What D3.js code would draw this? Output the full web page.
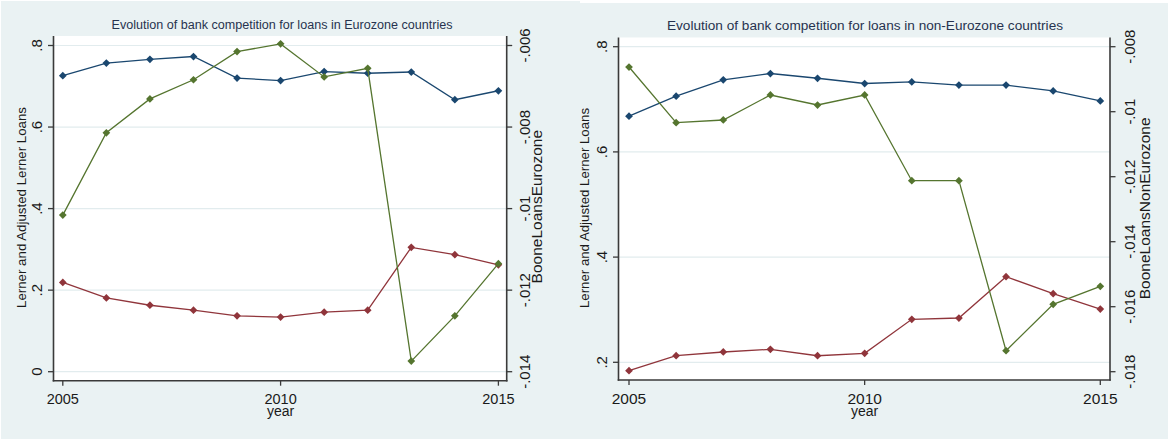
<!DOCTYPE html>
<html>
<head>
<meta charset="utf-8">
<script src="https://cdn.jsdelivr.net/npm/d3@7"></script>
<style>
  html, body { margin: 0; padding: 0; background: #ffffff; }
  svg { display: block; }
  text { font-family: "Liberation Sans", Arial, sans-serif; }
</style>
</head>
<body>
<svg id="chart" width="1169" height="439"></svg>
<script>
// ---------------- DATA ----------------
const years = [2005, 2006, 2007, 2008, 2009, 2010, 2011, 2012, 2013, 2014, 2015];

// Eurozone
const lernerEZ    = [0.726, 0.757, 0.766, 0.773, 0.720, 0.714, 0.736, 0.732, 0.735, 0.667, 0.689];
const adjLernerEZ = [0.219, 0.181, 0.163, 0.151, 0.137, 0.134, 0.146, 0.151, 0.305, 0.287, 0.262];
const booneEZ     = [-0.01016, -0.00814, -0.00731, -0.00684, -0.00615, -0.00596, -0.00677, -0.00656, -0.01374, -0.01263, -0.01135];

// non-Eurozone
const lernerNEZ    = [0.668, 0.706, 0.737, 0.749, 0.740, 0.730, 0.733, 0.727, 0.727, 0.716, 0.697];
const adjLernerNEZ = [0.184, 0.2125, 0.2196, 0.2247, 0.2125, 0.217, 0.2817, 0.2842, 0.3627, 0.3304, 0.3013];
const booneNEZ     = [-0.008625, -0.010338, -0.010255, -0.009486, -0.009794, -0.009486, -0.012123, -0.012123, -0.017354, -0.015926, -0.015372];

// ticks
const xTicks = [2005, 2010, 2015];
const leftTicksEZ  = [0, 0.2, 0.4, 0.6, 0.8];
const rightTicksEZ = [-0.014, -0.012, -0.01, -0.008, -0.006];
const leftTicksNEZ  = [0.2, 0.4, 0.6, 0.8];
const rightTicksNEZ = [-0.018, -0.016, -0.014, -0.012, -0.01, -0.008];

// texts
const titleEZ  = "Evolution of bank competition for loans in Eurozone countries";
const titleNEZ = "Evolution of bank competition for loans in non-Eurozone countries";
const leftAxisTitle = "Lerner and Adjusted Lerner Loans";
const rightTitleEZ  = "BooneLoansEurozone";
const rightTitleNEZ = "BooneLoansNonEurozone";
const xAxisTitle = "year";

// ---------------- STYLE ----------------
const C = {
  bg: "#eaf2f3",
  grid: "#e2ecee",
  axis: "#3a3a3a",
  text: "#1a1a1a",
  title: "#27334f",
  blue: "#1a476f",
  red: "#90353b",
  green: "#55752f"
};

// Stata-style number labels: ".8", "-.006", "0"
const fmt = v => {
  const s = String(+v.toFixed(4));
  return s.replace(/^(-?)0\./, "$1.");
};

const svg = d3.select("#chart");

// graph region backgrounds
svg.append("rect").attr("x", 1).attr("y", 1).attr("width", 579).attr("height", 438).attr("fill", C.bg);
svg.append("rect").attr("x", 563).attr("y", 3).attr("width", 605).attr("height", 436).attr("fill", C.bg);

const panels = [
  {
    title: titleEZ, titleX: 282, titleY: 28.5, titleLen: 341, tickFs: 14.5,
    rightTitle: rightTitleEZ, rtBase: 541.5, rtY: 206.7,
    ltBase: 26, ltY: 207.5, ltLen: 201,
    plot: { x0: 53.5, x1: 506.7, y0: 36, y1: 380.7 },
    xRange: [62.8, 498.4],
    left: { domain: [0, 0.8], range: [371.7, 45.5], ticks: leftTicksEZ },
    right: { domain: [-0.014, -0.006], range: [371.7, 45.5], ticks: rightTicksEZ },
    lerner: lernerEZ, adj: adjLernerEZ, boone: booneEZ,
    rLabelOff: 23.5
  },
  {
    title: titleNEZ, titleX: 865, titleY: 29.5, titleLen: 396, tickFs: 15.5,
    rightTitle: rightTitleNEZ, rtBase: 1150, rtY: 208.3,
    ltBase: 588.5, ltY: 208, ltLen: 200,
    plot: { x0: 618.5, x1: 1110, y0: 37.5, y1: 380 },
    xRange: [629, 1100.3],
    left: { domain: [0.2, 0.8], range: [362.3, 46.7], ticks: leftTicksNEZ },
    right: { domain: [-0.018, -0.008], range: [371.7, 46.7], ticks: rightTicksNEZ },
    lerner: lernerNEZ, adj: adjLernerNEZ, boone: booneNEZ,
    rLabelOff: 24.5
  }
];

const diamond = d3.symbol().type(d3.symbolSquare).size(30);

panels.forEach(p => {
  const g = svg.append("g");
  const x = d3.scaleLinear().domain([2005, 2015]).range(p.xRange);
  const yL = d3.scaleLinear().domain(p.left.domain).range(p.left.range);
  const yR = d3.scaleLinear().domain(p.right.domain).range(p.right.range);
  const P = p.plot;

  // plot region
  g.append("rect").attr("x", P.x0).attr("y", P.y0)
    .attr("width", P.x1 - P.x0).attr("height", P.y1 - P.y0).attr("fill", "#ffffff");

  // gridlines
  g.selectAll(".grid").data(p.left.ticks).join("line")
    .attr("x1", P.x0).attr("x2", P.x1)
    .attr("y1", d => yL(d)).attr("y2", d => yL(d))
    .attr("stroke", C.grid).attr("stroke-width", 1.2);

  // title
  g.append("text").attr("x", p.titleX).attr("y", p.titleY)
    .attr("text-anchor", "middle").attr("font-size", 12)
    .attr("textLength", p.titleLen).attr("lengthAdjust", "spacingAndGlyphs")
    .attr("fill", C.title).text(p.title);

  // series
  const series = [
    { vals: p.lerner, y: yL, color: C.blue },
    { vals: p.adj, y: yL, color: C.red },
    { vals: p.boone, y: yR, color: C.green }
  ];
  series.forEach(s => {
    const pts = years.map((yr, i) => [x(yr), s.y(s.vals[i])]);
    g.append("path").attr("d", d3.line()(pts))
      .attr("fill", "none").attr("stroke", s.color).attr("stroke-width", 1.3);
    g.selectAll(null).data(pts).join("path")
      .attr("d", diamond)
      .attr("transform", d => `translate(${d[0]},${d[1]}) rotate(45)`)
      .attr("fill", s.color);
  });

  // axes lines
  const axis = g.append("g").attr("stroke", C.axis).attr("stroke-width", 1.6).attr("fill", "none");
  axis.append("line").attr("x1", P.x0).attr("x2", P.x0).attr("y1", P.y0).attr("y2", P.y1 + 0.8);
  axis.append("line").attr("x1", P.x1).attr("x2", P.x1).attr("y1", P.y0).attr("y2", P.y1 + 0.8);
  axis.append("line").attr("x1", P.x0 - 0.8).attr("x2", P.x1 + 0.8).attr("y1", P.y1).attr("y2", P.y1);

  // left ticks
  const lt = g.selectAll(".lt").data(p.left.ticks).join("g");
  lt.append("line").attr("x1", P.x0 - 5.5).attr("x2", P.x0)
    .attr("y1", d => yL(d)).attr("y2", d => yL(d))
    .attr("stroke", C.axis).attr("stroke-width", 1.3);
  lt.append("text")
    .attr("transform", d => `translate(${P.x0 - 12},${yL(d)}) rotate(-90)`)
    .attr("text-anchor", "middle").attr("font-size", 15).attr("fill", C.text)
    .text(d => fmt(d));

  // right ticks
  const rt = g.selectAll(".rt").data(p.right.ticks).join("g");
  rt.append("line").attr("x1", P.x1).attr("x2", P.x1 + 5.5)
    .attr("y1", d => yR(d)).attr("y2", d => yR(d))
    .attr("stroke", C.axis).attr("stroke-width", 1.3);
  rt.append("text")
    .attr("transform", d => `translate(${P.x1 + p.rLabelOff},${yR(d)}) rotate(-90)`)
    .attr("text-anchor", "middle").attr("font-size", 15).attr("fill", C.text)
    .text(d => fmt(d));

  // x ticks
  const xt = g.selectAll(".xt").data(xTicks).join("g");
  xt.append("line").attr("x1", d => x(d)).attr("x2", d => x(d))
    .attr("y1", P.y1).attr("y2", P.y1 + 5)
    .attr("stroke", C.axis).attr("stroke-width", 1.3);
  xt.append("text").attr("x", d => x(d)).attr("y", 404)
    .attr("text-anchor", "middle").attr("font-size", p.tickFs).attr("fill", C.text)
    .text(d => d);

  // x axis title
  g.append("text").attr("x", (p.xRange[0] + p.xRange[1]) / 2).attr("y", 416)
    .attr("text-anchor", "middle").attr("font-size", 14).attr("fill", C.text)
    .text(xAxisTitle);

  // left axis title
  g.append("text")
    .attr("transform", `translate(${p.ltBase},${p.ltY}) rotate(-90)`)
    .attr("text-anchor", "middle").attr("font-size", 12)
    .attr("textLength", p.ltLen).attr("lengthAdjust", "spacingAndGlyphs")
    .attr("fill", C.text).text(leftAxisTitle);

  // right axis title
  g.append("text")
    .attr("transform", `translate(${p.rtBase},${p.rtY}) rotate(-90)`)
    .attr("text-anchor", "middle").attr("font-size", 15.5)
    .attr("fill", C.text).text(p.rightTitle);
});
</script>
</body>
</html>
